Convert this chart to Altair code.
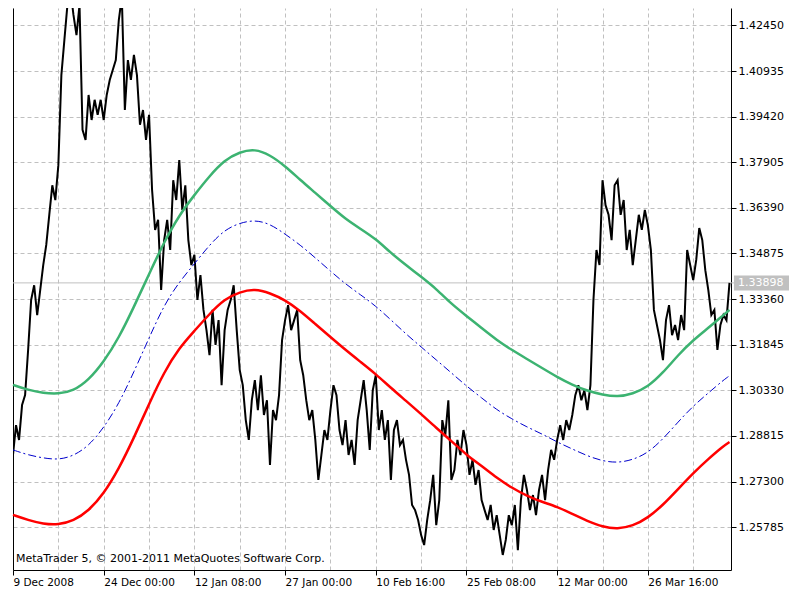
import altair as alt
import pandas as pd

# ---- data ----
x_tick_idx = [0, 30, 60, 90, 120, 150, 180, 210]
x_tick_labels = ["9 Dec 2008", "24 Dec 00:00", "12 Jan 08:00", "27 Jan 00:00",
                 "10 Feb 16:00", "25 Feb 08:00", "12 Mar 00:00", "26 Mar 16:00"]
x_grid_idx = [0, 15, 30, 45, 60, 75, 90, 105, 120, 135, 150, 165, 180, 195, 210, 225]

y_ticks = [1.25785, 1.27300, 1.28815, 1.30330, 1.31845, 1.33360,
           1.34875, 1.36390, 1.37905, 1.39420, 1.40935, 1.42450]
bid = 1.33898
copyright_text = "MetaTrader 5, © 2001-2011 MetaQuotes Software Corp."

price = [
    1.2818, 1.2917, 1.2868, 1.2984, 1.3017, 1.3167, 1.3333, 1.3382, 1.3283, 1.3366,
    1.3449, 1.3516, 1.3616, 1.3714, 1.3665, 1.3781, 1.4080, 1.4197, 1.4313, 1.4363,
    1.4280, 1.4213, 1.4313, 1.3898, 1.3865, 1.4014, 1.3931, 1.3998, 1.3948, 1.3998,
    1.3931, 1.4014, 1.4064, 1.4097, 1.4130, 1.4263, 1.4340, 1.3964, 1.4130, 1.4064,
    1.4147, 1.4080, 1.3915, 1.3964, 1.3865, 1.3948, 1.3699, 1.3566, 1.3599, 1.3366,
    1.3532, 1.3599, 1.3499, 1.3731, 1.3665, 1.3798, 1.3632, 1.3714, 1.3532, 1.3449,
    1.3483, 1.3333, 1.3416, 1.3300, 1.3233, 1.3150, 1.3300, 1.3184, 1.3266, 1.3050,
    1.3233, 1.3300, 1.3333, 1.3382, 1.3233, 1.3100, 1.3050, 1.2934, 1.2868, 1.3000,
    1.3067, 1.2967, 1.3083, 1.2951, 1.3000, 1.2785, 1.2967, 1.2934, 1.3017, 1.3200,
    1.3266, 1.3316, 1.3233, 1.3266, 1.3300, 1.3133, 1.3083, 1.3000, 1.2934, 1.2967,
    1.2868, 1.2735, 1.2818, 1.2901, 1.2868, 1.2967, 1.3050, 1.3017, 1.2901, 1.2851,
    1.2934, 1.2818, 1.2868, 1.2785, 1.2934, 1.3000, 1.3067, 1.2967, 1.2835, 1.3033,
    1.3083, 1.2901, 1.2967, 1.2868, 1.2934, 1.2735, 1.2901, 1.2934, 1.2851, 1.2868,
    1.2802, 1.2752, 1.2652, 1.2635, 1.2602, 1.2552, 1.2519, 1.2602, 1.2668, 1.2752,
    1.2585, 1.2668, 1.2934, 1.2884, 1.3000, 1.2735, 1.2768, 1.2868, 1.2818, 1.2901,
    1.2851, 1.2752, 1.2802, 1.2719, 1.2768, 1.2668, 1.2635, 1.2602, 1.2652, 1.2569,
    1.2618, 1.2552, 1.2486, 1.2536, 1.2618, 1.2585, 1.2652, 1.2502, 1.2668, 1.2752,
    1.2702, 1.2635, 1.2685, 1.2618, 1.2702, 1.2752, 1.2668, 1.2768, 1.2835, 1.2802,
    1.2868, 1.2917, 1.2868, 1.2934, 1.2901, 1.2951, 1.3017, 1.3050, 1.3000, 1.3033,
    1.2967, 1.3050, 1.3333, 1.3499, 1.3449, 1.3731, 1.3648, 1.3616, 1.3532, 1.3714,
    1.3731, 1.3616, 1.3665, 1.3499, 1.3566, 1.3449, 1.3532, 1.3616, 1.3566, 1.3632,
    1.3582, 1.3499, 1.3300, 1.3250, 1.3200, 1.3133, 1.3266, 1.3316, 1.3216, 1.3250,
    1.3200, 1.3283, 1.3233, 1.3499, 1.3449, 1.3399, 1.3466, 1.3572, 1.3532, 1.3432,
    1.3366, 1.3283, 1.3300, 1.3167, 1.3250, 1.3283, 1.3266, 1.3390,
]

band_idx = [0, 5, 10, 15, 20, 25, 30, 35, 40, 45, 50, 55, 60, 65, 70, 75, 80, 85,
            90, 95, 100, 105, 110, 115, 120, 125, 130, 135, 140, 145, 150, 155, 160,
            165, 170, 175, 180, 185, 190, 195, 200, 205, 210, 215, 220, 225, 230, 235, 237]
upper = [1.3051, 1.3034, 1.3024, 1.3021, 1.3031, 1.3067, 1.3127, 1.3207, 1.3310, 1.3419,
         1.3526, 1.3615, 1.3682, 1.3745, 1.3798, 1.3825, 1.3835, 1.3815, 1.3778, 1.3732,
         1.3689, 1.3645, 1.3602, 1.3569, 1.3536, 1.3489, 1.3449, 1.3410, 1.3370, 1.3320,
         1.3280, 1.3240, 1.3200, 1.3167, 1.3137, 1.3107, 1.3077, 1.3051, 1.3031, 1.3018,
         1.3011, 1.3021, 1.3044, 1.3091, 1.3150, 1.3200, 1.3240, 1.3283, 1.3300]
middle = [1.2835, 1.2818, 1.2808, 1.2802, 1.2815, 1.2848, 1.2908, 1.2988, 1.3094, 1.3207,
          1.3317, 1.3393, 1.3453, 1.3516, 1.3566, 1.3589, 1.3599, 1.3586, 1.3552, 1.3516,
          1.3473, 1.3429, 1.3386, 1.3350, 1.3313, 1.3267, 1.3220, 1.3177, 1.3134, 1.3091,
          1.3047, 1.3008, 1.2968, 1.2938, 1.2911, 1.2888, 1.2861, 1.2838, 1.2815, 1.2798,
          1.2792, 1.2802, 1.2825, 1.2871, 1.2928, 1.2981, 1.3024, 1.3067, 1.3081]
lower = [1.2619, 1.2602, 1.2589, 1.2586, 1.2599, 1.2632, 1.2689, 1.2772, 1.2875, 1.2988,
         1.3094, 1.3174, 1.3230, 1.3287, 1.3336, 1.3360, 1.3370, 1.3356, 1.3333, 1.3297,
         1.3253, 1.3210, 1.3167, 1.3127, 1.3087, 1.3041, 1.2998, 1.2954, 1.2908, 1.2865,
         1.2818, 1.2782, 1.2742, 1.2709, 1.2682, 1.2662, 1.2646, 1.2622, 1.2599, 1.2579,
         1.2572, 1.2582, 1.2609, 1.2652, 1.2705, 1.2758, 1.2805, 1.2848, 1.2861]

# ---- layout ----
W, H = 718, 562
X_DOMAIN = [0, 237.5]
Y_DOMAIN = [1.2436, 1.4303]
FONT = "DejaVu Sans"
GRID = "#c0c0c0"

price_df = pd.DataFrame({"i": list(range(len(price))), "price": price})
band_df = pd.DataFrame({"i": band_idx, "upper": upper, "middle": middle, "lower": lower})

xs = alt.Scale(domain=X_DOMAIN, nice=False, zero=False)
ys = alt.Scale(domain=Y_DOMAIN, nice=False, zero=False)

label_expr = "{}[indexof({}, datum.value)]".format(
    "[" + ",".join("'" + s + "'" for s in x_tick_labels) + "]",
    "[" + ",".join(str(v) for v in x_tick_idx) + "]",
)

x_main_axis = alt.Axis(values=x_tick_idx, labelExpr=label_expr, grid=False, title=None,
                       domainColor="black", tickColor="black", tickSize=5,
                       labelAlign="left", labelPadding=2, labelFlush=False,
                       labelOverlap=False, labelBound=False, labelFont=FONT,
                       labelFontSize=10.5, labelColor="black", orient="bottom")
y_main_axis = alt.Axis(values=y_ticks, format=".5f", orient="right", title=None,
                       grid=True, gridColor=GRID, gridDash=[4, 3], gridWidth=1,
                       domainColor="black", tickColor="black", tickSize=5,
                       labelPadding=2, labelFont=FONT, labelFontSize=11,
                       labelColor="black", labelOverlap=False)
x_grid_axis = alt.Axis(values=x_grid_idx, orient="top", grid=True, gridColor=GRID,
                       gridDash=[4, 3], gridWidth=1, labels=False, ticks=False,
                       domain=False, title=None)
y_left_axis = alt.Axis(orient="left", grid=False, labels=False, ticks=False,
                       domain=True, domainColor="black", title=None, minExtent=0)

bid_rule = alt.Chart(pd.DataFrame({"bid": [bid]})).mark_rule(
    color="#c0c0c0", strokeWidth=1
).encode(
    y=alt.Y("bid:Q", scale=ys, axis=None),
    x=alt.value(0), x2=alt.value(W + 3),
)

price_line = alt.Chart(price_df).mark_line(
    color="black", strokeWidth=2, clip=True, strokeJoin="miter"
).encode(
    x=alt.X("i:Q", scale=xs, axis=x_main_axis),
    y=alt.Y("price:Q", scale=ys, axis=y_main_axis),
)

upper_line = alt.Chart(band_df).mark_line(
    color="#3cb371", strokeWidth=2.5, interpolate="basis"
).encode(
    x=alt.X("i:Q", scale=xs, axis=x_grid_axis),
    y=alt.Y("upper:Q", scale=ys, axis=y_left_axis),
)

lower_line = alt.Chart(band_df).mark_line(
    color="#ff0000", strokeWidth=2.5, interpolate="basis"
).encode(
    x=alt.X("i:Q", scale=xs, axis=None),
    y=alt.Y("lower:Q", scale=ys, axis=None),
)

middle_line = alt.Chart(band_df).mark_line(
    color="#0000cc", strokeWidth=1, strokeDash=[8, 3, 2, 3], interpolate="basis"
).encode(
    x=alt.X("i:Q", scale=xs, axis=None),
    y=alt.Y("middle:Q", scale=ys, axis=None),
)

copyright_mark = alt.Chart(pd.DataFrame({"t": [copyright_text]})).mark_text(
    align="left", baseline="middle", font=FONT, fontSize=11, color="black"
).encode(text="t:N", x=alt.value(3), y=alt.value(H - 11))

half = 7.5 * (Y_DOMAIN[1] - Y_DOMAIN[0]) / H
box_df = pd.DataFrame({"top": [bid + half], "bot": [bid - half], "bid": [bid],
                       "label": ["{:.5f}".format(bid)]})
bid_box = alt.Chart(box_df).mark_rect(color="#c0c0c0").encode(
    y=alt.Y("top:Q", scale=ys, axis=None), y2="bot:Q",
    x=alt.value(W + 3), x2=alt.value(W + 58),
)
bid_text = alt.Chart(box_df).mark_text(
    align="left", baseline="middle", font=FONT, fontSize=11, color="white"
).encode(
    y=alt.Y("bid:Q", scale=ys, axis=None), x=alt.value(W + 7), text="label:N",
)

chart = alt.layer(
    bid_rule, price_line, upper_line, lower_line, middle_line,
    copyright_mark, bid_box, bid_text,
).resolve_axis(x="independent", y="independent").properties(
    width=W, height=H, padding=0, background="white"
).configure_view(stroke=None)

chart.save("out.html", embed_options={"renderer": "svg", "actions": False})
